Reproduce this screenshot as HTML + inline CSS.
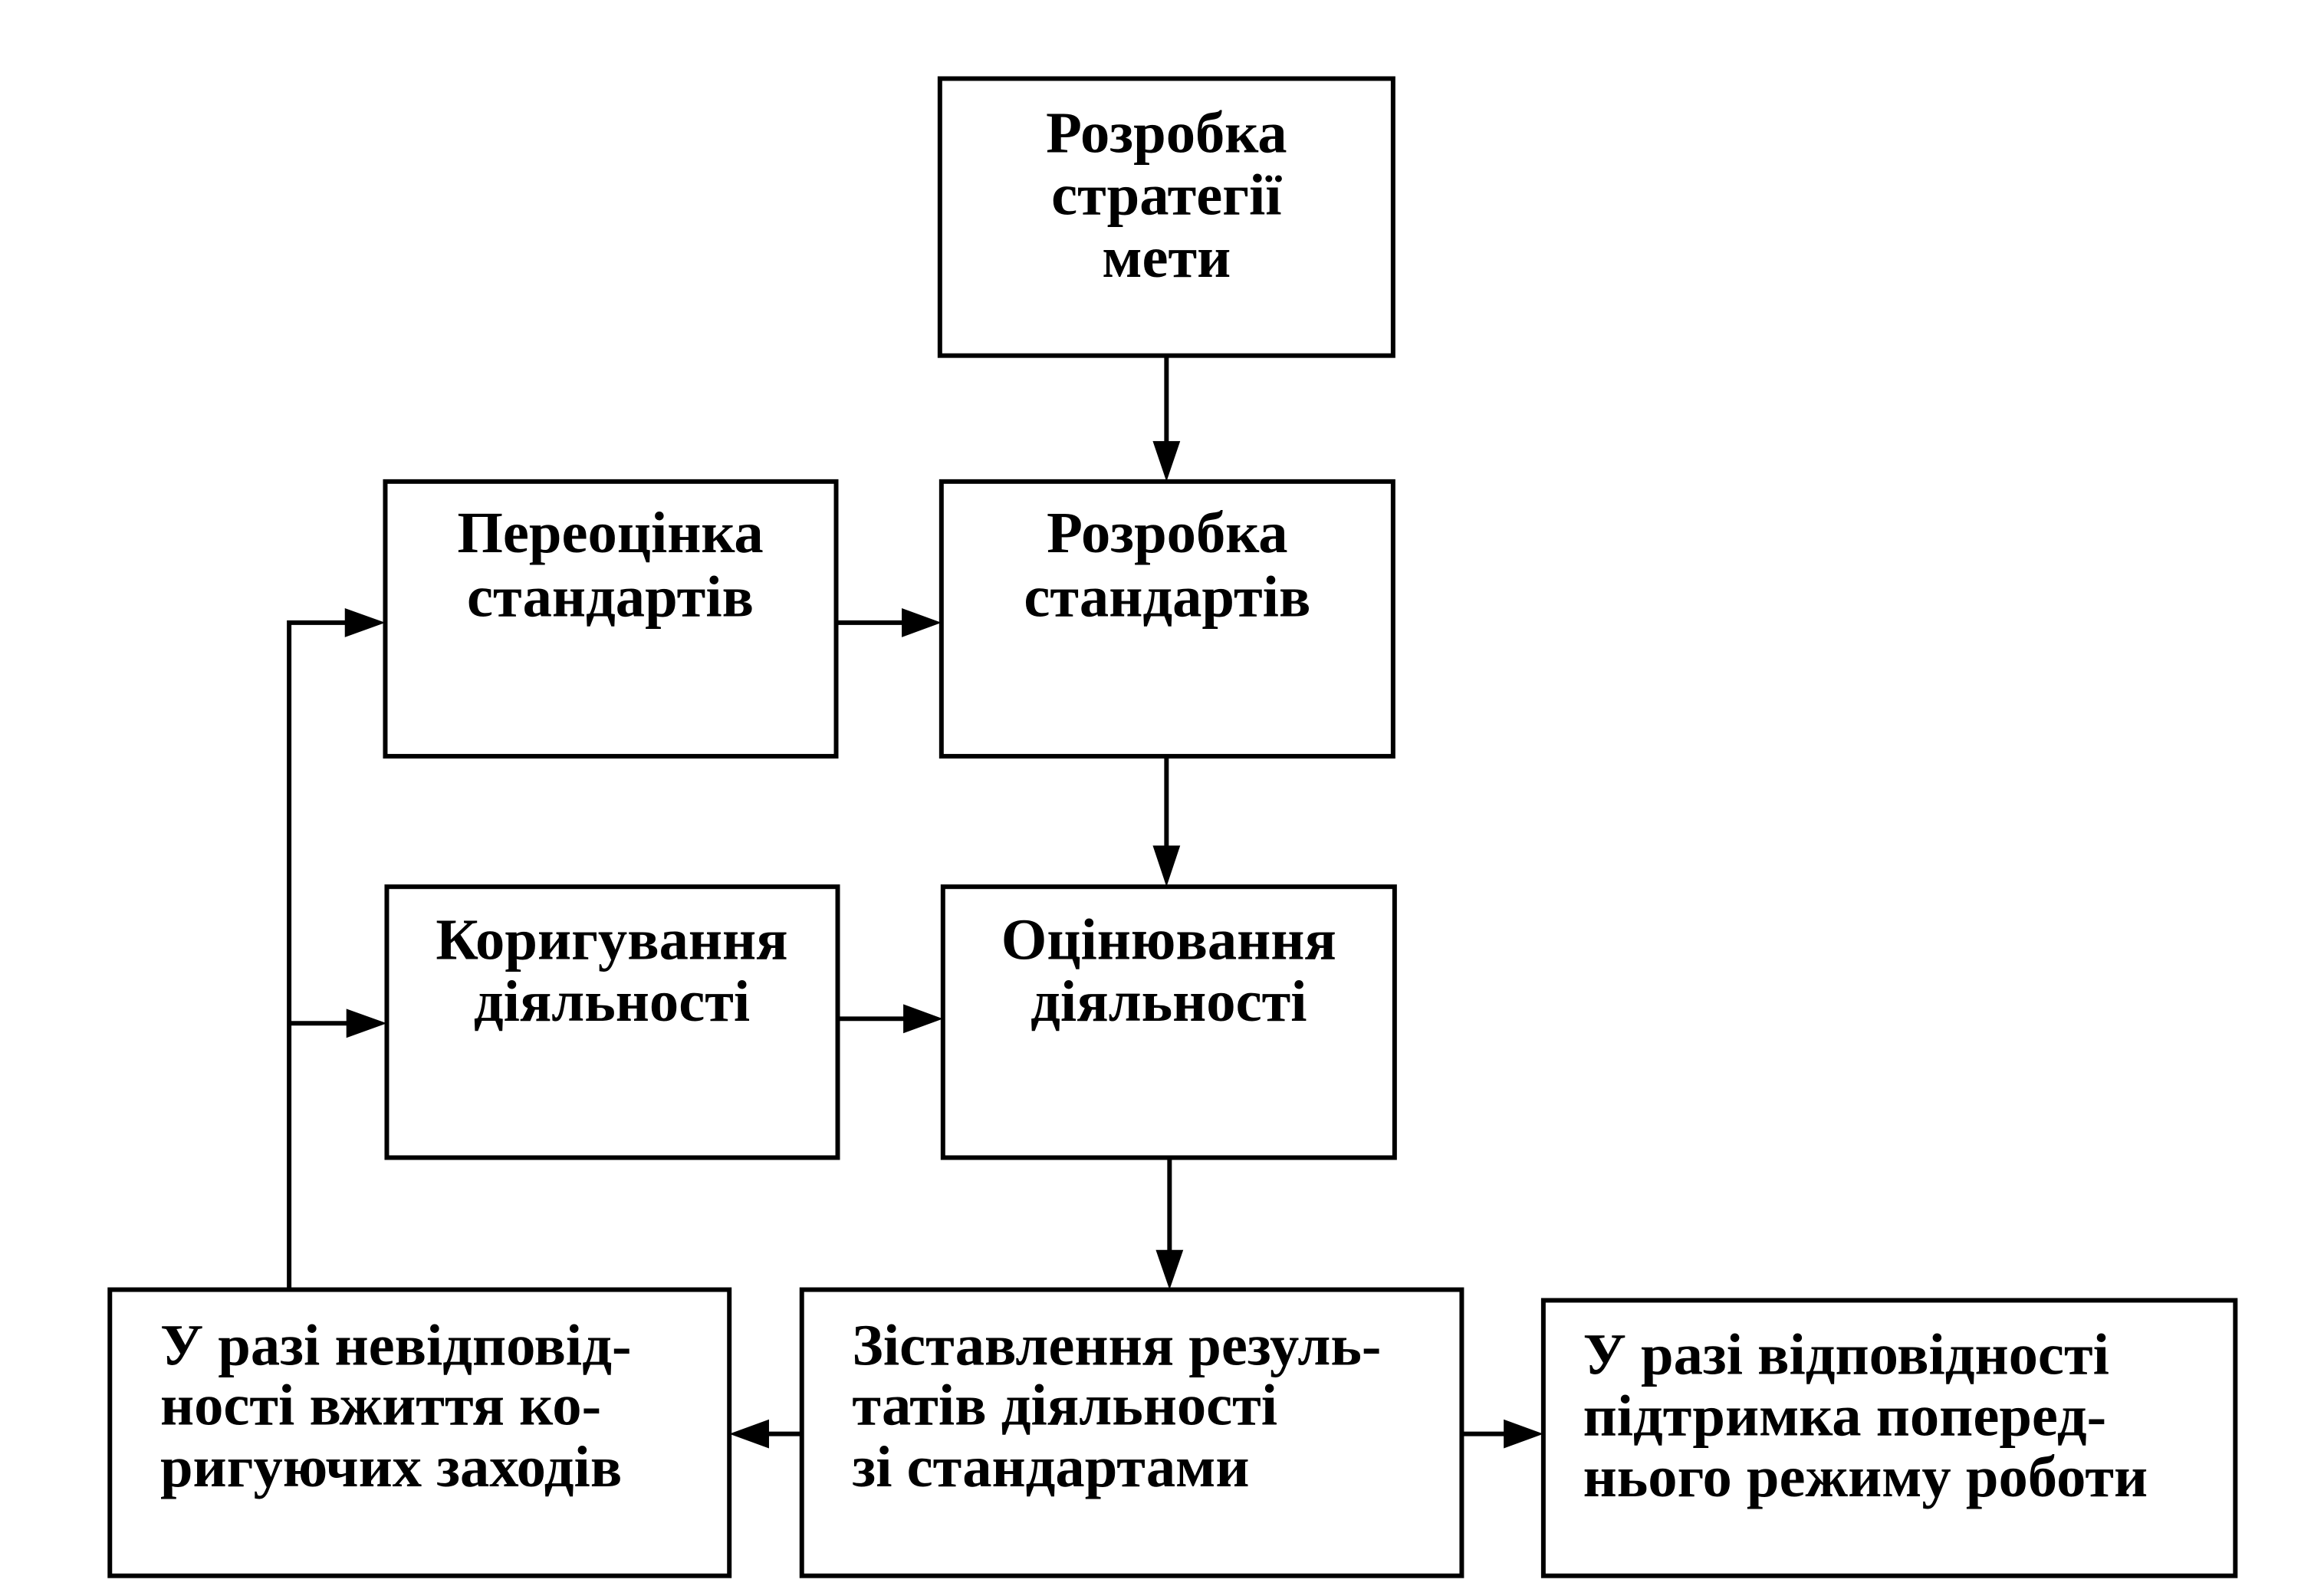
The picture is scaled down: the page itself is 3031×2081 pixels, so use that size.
<!DOCTYPE html>
<html><head><meta charset="utf-8"><style>html,body{margin:0;padding:0;background:#fff}</style></head>
<body>
<svg width="3031" height="2076" viewBox="0 0 3031 2076" xmlns="http://www.w3.org/2000/svg">
<g transform="scale(0.995)">
<g fill="none" stroke="#000" stroke-width="6">
<rect x="1232" y="103" width="594" height="363"/>
<rect x="505" y="631" width="591" height="360"/>
<rect x="1234" y="631" width="592" height="360"/>
<rect x="507" y="1162" width="591" height="355"/>
<rect x="1236" y="1162" width="592" height="355"/>
<rect x="144" y="1690" width="812" height="375"/>
<rect x="1051" y="1690" width="865" height="375"/>
<rect x="2023" y="1704" width="907" height="361"/>
<path d="M1529 466V580M1529 991V1110M1533 1517V1640M1096 816H1185M1098 1335H1187M379 1690V816H455M379 1341H457M1051 1879H1006M1916 1879H1973"/>
</g>
<g fill="#000">
<path d="M1511 578h36l-18 53z"/>
<path d="M1511 1108h36l-18 54z"/>
<path d="M1515 1638h36l-18 52z"/>
<path d="M1182 797v38l52-19z"/>
<path d="M1184 1316v38l52-19z"/>
<path d="M452 797v38l53-19z"/>
<path d="M454 1322v38l53-19z"/>
<path d="M1008 1860v38l-52-19z"/>
<path d="M1971 1860v38l52-19z"/>
</g>
<g font-family="Liberation Serif, serif" font-weight="bold" font-size="77" fill="#000" dominant-baseline="middle">
<g text-anchor="middle">
<text x="1529" y="182">Розробка</text>
<text x="1529" y="263">стратегії</text>
<text x="1529" y="345">мети</text>
<text x="800" y="706">Переоцінка</text>
<text x="800" y="790">стандартів</text>
<text x="1530" y="706">Розробка</text>
<text x="1530" y="790">стандартів</text>
<text x="802" y="1239">Коригування</text>
<text x="802" y="1320">діяльності</text>
<text x="1532" y="1239">Оцінювання</text>
<text x="1532" y="1320">діяльності</text>
</g>
<text x="210" y="1771">У разі невідповід-</text>
<text x="210" y="1849">ності вжиття ко-</text>
<text x="210" y="1930">ригуючих заходів</text>
<text x="1117" y="1771">Зіставлення резуль-</text>
<text x="1117" y="1849">татів діяльності</text>
<text x="1117" y="1930">зі стандартами</text>
<text x="2075" y="1783">У разі відповідності</text>
<text x="2075" y="1863">підтримка поперед-</text>
<text x="2075" y="1943">нього режиму роботи</text>
</g>
</g>
</svg>
</body></html>
